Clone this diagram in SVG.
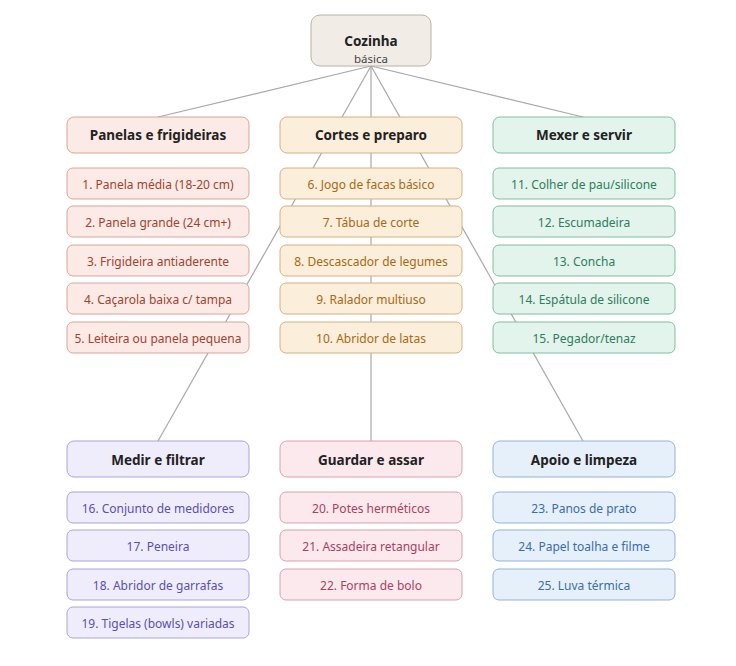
<svg xmlns="http://www.w3.org/2000/svg" width="736" height="666" viewBox="0 0 736 666">
<style>
text{font-family:"Segoe UI","Noto Sans","DejaVu Sans",sans-serif;text-anchor:middle;dominant-baseline:central}
.h{font-size:13.5px;font-weight:bold;fill:#222}
.i{font-size:12px}
.a rect{fill:#fbeae6;stroke:#d9a59a}.a .i{fill:#a0442f}
.b rect{fill:#fbeedb;stroke:#d4b080}.b .i{fill:#a66a15}
.c rect{fill:#e2f4ec;stroke:#7fbfa2}.c .i{fill:#2e7d5b}
.d rect{fill:#efedfb;stroke:#a9a3da}.d .i{fill:#5a4fb0}
.e rect{fill:#fbe9ee;stroke:#d9a0b0}.e .i{fill:#a8435e}
.f rect{fill:#e6f0fb;stroke:#90b3d8}.f .i{fill:#3b6da6}
line{stroke:#a8a8a8;stroke-width:1.2}
</style>
<g id="connectors">
<line x1="371" y1="66" x2="158" y2="117"/>
<line x1="371" y1="66" x2="583" y2="117"/>
<line x1="371" y1="66" x2="158" y2="441"/>
<line x1="371" y1="66" x2="583" y2="441"/>
<line x1="371" y1="66" x2="371" y2="441"/>
</g>
<g id="root"><rect x="311" y="15" width="120" height="51" rx="9" fill="#f1ede6" stroke="#b8b2a8"/>
<text x="371" y="41" class="h">Cozinha</text><text x="371" y="58" style="font-size:11.5px;fill:#444">básica</text></g>
<g id="panelas" class="a">
<rect x="67" y="117" width="182" height="36" rx="7"/><text x="158" y="135" class="h">Panelas e frigideiras</text>
<rect x="67" y="168" width="182" height="31" rx="6"/><text x="158" y="184" class="i">1. Panela média (18-20 cm)</text>
<rect x="67" y="206" width="182" height="31" rx="6"/><text x="158" y="222" class="i">2. Panela grande (24 cm+)</text>
<rect x="67" y="245" width="182" height="31" rx="6"/><text x="158" y="261" class="i">3. Frigideira antiaderente</text>
<rect x="67" y="283" width="182" height="31" rx="6"/><text x="158" y="299" class="i">4. Caçarola baixa c/ tampa</text>
<rect x="67" y="322" width="182" height="31" rx="6"/><text x="158" y="338" class="i">5. Leiteira ou panela pequena</text>
</g>
<g id="cortes" class="b">
<rect x="280" y="117" width="182" height="36" rx="7"/><text x="371" y="135" class="h">Cortes e preparo</text>
<rect x="280" y="168" width="182" height="31" rx="6"/><text x="371" y="184" class="i">6. Jogo de facas básico</text>
<rect x="280" y="206" width="182" height="31" rx="6"/><text x="371" y="222" class="i">7. Tábua de corte</text>
<rect x="280" y="245" width="182" height="31" rx="6"/><text x="371" y="261" class="i">8. Descascador de legumes</text>
<rect x="280" y="283" width="182" height="31" rx="6"/><text x="371" y="299" class="i">9. Ralador multiuso</text>
<rect x="280" y="322" width="182" height="31" rx="6"/><text x="371" y="338" class="i">10. Abridor de latas</text>
</g>
<g id="mexer" class="c">
<rect x="493" y="117" width="182" height="36" rx="7"/><text x="584" y="135" class="h">Mexer e servir</text>
<rect x="493" y="168" width="182" height="31" rx="6"/><text x="584" y="184" class="i">11. Colher de pau/silicone</text>
<rect x="493" y="206" width="182" height="31" rx="6"/><text x="584" y="222" class="i">12. Escumadeira</text>
<rect x="493" y="245" width="182" height="31" rx="6"/><text x="584" y="261" class="i">13. Concha</text>
<rect x="493" y="283" width="182" height="31" rx="6"/><text x="584" y="299" class="i">14. Espátula de silicone</text>
<rect x="493" y="322" width="182" height="31" rx="6"/><text x="584" y="338" class="i">15. Pegador/tenaz</text>
</g>
<g id="medir" class="d">
<rect x="67" y="441" width="182" height="36" rx="7"/><text x="158" y="460" class="h">Medir e filtrar</text>
<rect x="67" y="492" width="182" height="31" rx="6"/><text x="158" y="508" class="i">16. Conjunto de medidores</text>
<rect x="67" y="530" width="182" height="31" rx="6"/><text x="158" y="546" class="i">17. Peneira</text>
<rect x="67" y="569" width="182" height="31" rx="6"/><text x="158" y="585" class="i">18. Abridor de garrafas</text>
<rect x="67" y="607" width="182" height="31" rx="6"/><text x="158" y="623" class="i">19. Tigelas (bowls) variadas</text>
</g>
<g id="guardar" class="e">
<rect x="280" y="441" width="182" height="36" rx="7"/><text x="371" y="460" class="h">Guardar e assar</text>
<rect x="280" y="492" width="182" height="31" rx="6"/><text x="371" y="508" class="i">20. Potes herméticos</text>
<rect x="280" y="530" width="182" height="31" rx="6"/><text x="371" y="546" class="i">21. Assadeira retangular</text>
<rect x="280" y="569" width="182" height="31" rx="6"/><text x="371" y="585" class="i">22. Forma de bolo</text>
</g>
<g id="apoio" class="f">
<rect x="493" y="441" width="182" height="36" rx="7"/><text x="584" y="460" class="h">Apoio e limpeza</text>
<rect x="493" y="492" width="182" height="31" rx="6"/><text x="584" y="508" class="i">23. Panos de prato</text>
<rect x="493" y="530" width="182" height="31" rx="6"/><text x="584" y="546" class="i">24. Papel toalha e filme</text>
<rect x="493" y="569" width="182" height="31" rx="6"/><text x="584" y="585" class="i">25. Luva térmica</text>
</g>
</svg>
